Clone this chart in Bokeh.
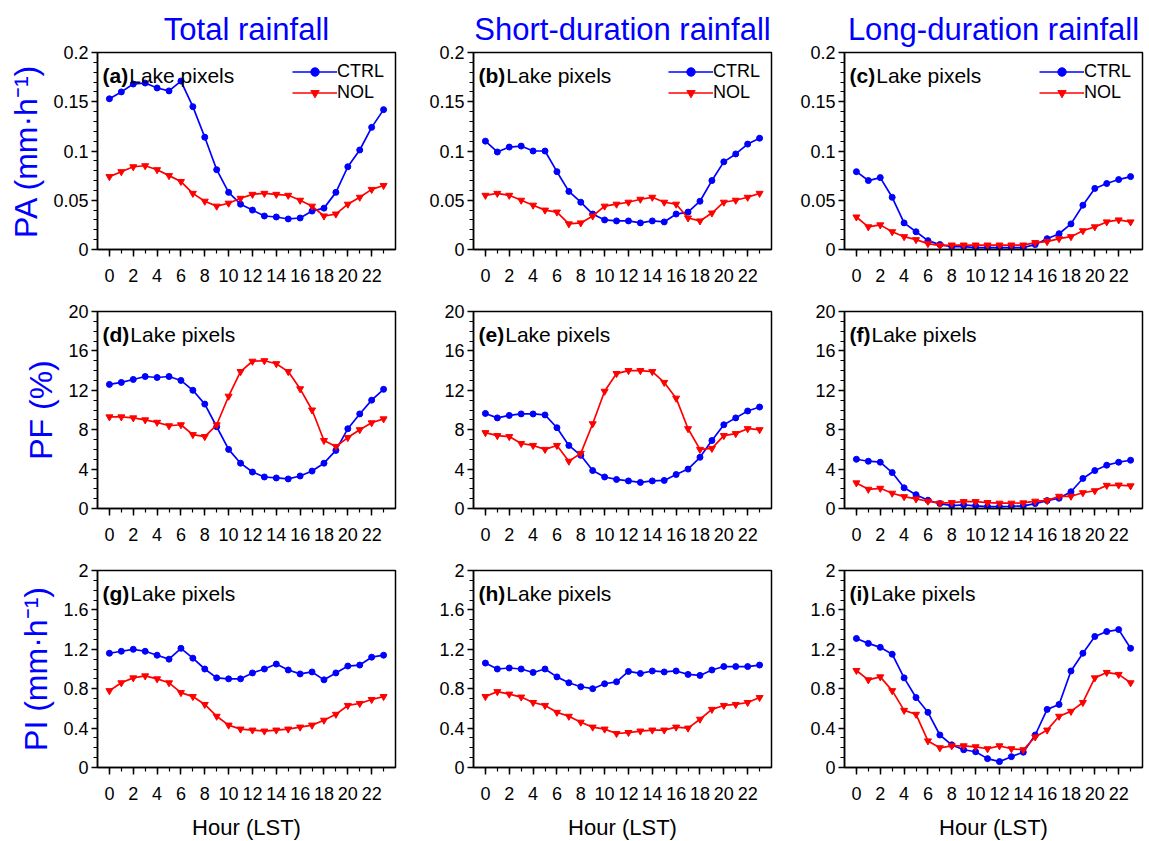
from bokeh.plotting import figure
from bokeh.layouts import gridplot
from bokeh.models import (FixedTicker, NumeralTickFormatter, Label, Legend,
                          LegendItem, Range1d)
from bokeh.embed import file_html
from bokeh.resources import INLINE

hours = list(range(24))
hour_ticks = [0, 2, 4, 6, 8, 10, 12, 14, 16, 18, 20, 22]

col_titles = ["Total rainfall", "Short-duration rainfall", "Long-duration rainfall"]
row_labels = ["PA (mm\u00b7h\u207b\u00b9)", "PF (%)", "PI (mm\u00b7h\u207b\u00b9)"]
panel_tags = [["(a)", "(b)", "(c)"], ["(d)", "(e)", "(f)"], ["(g)", "(h)", "(i)"]]
panel_text = "Lake pixels"
series_names = ["CTRL", "NOL"]

# PA (mm h-1)
pa_total_ctrl = [0.153, 0.160, 0.168, 0.169, 0.164, 0.161, 0.171, 0.145, 0.114, 0.081, 0.058, 0.046,
                 0.040, 0.034, 0.033, 0.031, 0.032, 0.039, 0.042, 0.058, 0.084, 0.101, 0.124, 0.142]
pa_total_nol = [0.074, 0.079, 0.084, 0.085, 0.081, 0.075, 0.069, 0.057, 0.049, 0.044, 0.047, 0.052,
                0.056, 0.057, 0.056, 0.055, 0.050, 0.044, 0.034, 0.036, 0.046, 0.053, 0.061, 0.065]
pa_short_ctrl = [0.110, 0.099, 0.104, 0.105, 0.100, 0.100, 0.079, 0.059, 0.048, 0.036, 0.030, 0.029,
                 0.029, 0.027, 0.029, 0.028, 0.036, 0.038, 0.049, 0.070, 0.089, 0.097, 0.107, 0.113]
pa_short_nol = [0.055, 0.057, 0.055, 0.050, 0.045, 0.040, 0.038, 0.026, 0.027, 0.034, 0.044, 0.046,
                0.048, 0.051, 0.053, 0.048, 0.046, 0.032, 0.029, 0.037, 0.048, 0.050, 0.053, 0.057]
pa_long_ctrl = [0.079, 0.070, 0.073, 0.053, 0.027, 0.018, 0.009, 0.005, 0.003, 0.003, 0.002, 0.002,
                0.002, 0.002, 0.002, 0.005, 0.011, 0.016, 0.026, 0.045, 0.062, 0.067, 0.071, 0.074]
pa_long_nol = [0.033, 0.023, 0.025, 0.018, 0.013, 0.010, 0.006, 0.004, 0.0045, 0.0045, 0.0045, 0.0045,
               0.0045, 0.0045, 0.0045, 0.007, 0.008, 0.011, 0.013, 0.019, 0.023, 0.028, 0.030, 0.028]

# PF (%)
pf_total_ctrl = [12.6, 12.8, 13.1, 13.4, 13.3, 13.4, 13.0, 12.0, 10.6, 8.3, 6.0, 4.6,
                 3.7, 3.2, 3.1, 3.0, 3.3, 3.8, 4.6, 5.9, 8.1, 9.6, 11.0, 12.1]
pf_total_nol = [9.3, 9.3, 9.2, 9.0, 8.75, 8.4, 8.5, 7.5, 7.3, 8.5, 11.4, 13.9,
                14.95, 15.0, 14.7, 13.9, 12.15, 10.0, 6.9, 6.3, 7.2, 8.0, 8.7, 9.1]
pf_short_ctrl = [9.65, 9.2, 9.45, 9.6, 9.6, 9.5, 8.2, 6.4, 5.4, 3.85, 3.2, 2.95,
                 2.8, 2.65, 2.8, 2.85, 3.45, 4.0, 5.2, 6.9, 8.5, 9.2, 9.9, 10.3]
pf_short_nol = [7.7, 7.4, 7.3, 6.6, 6.4, 6.0, 6.4, 4.8, 5.6, 8.6, 11.9, 13.7,
                14.0, 14.0, 13.9, 12.8, 11.2, 8.1, 6.0, 6.1, 7.4, 7.6, 8.1, 8.0]
pf_long_ctrl = [5.0, 4.8, 4.7, 3.65, 2.1, 1.4, 0.84, 0.5, 0.3, 0.37, 0.27, 0.2,
                0.2, 0.23, 0.27, 0.5, 0.8, 1.04, 1.7, 3.05, 3.85, 4.4, 4.7, 4.9]
pf_long_nol = [2.6, 1.95, 2.05, 1.55, 1.2, 0.97, 0.74, 0.54, 0.6, 0.7, 0.7, 0.6,
               0.54, 0.54, 0.57, 0.74, 0.8, 1.24, 1.24, 1.6, 1.8, 2.35, 2.38, 2.3]

# PI (mm h-1)
pi_total_ctrl = [1.16, 1.18, 1.20, 1.18, 1.14, 1.10, 1.21, 1.11, 1.00, 0.91, 0.90, 0.90,
                 0.96, 1.00, 1.05, 0.99, 0.95, 0.97, 0.89, 0.96, 1.03, 1.04, 1.12, 1.14]
pi_total_nol = [0.78, 0.86, 0.91, 0.93, 0.90, 0.86, 0.76, 0.72, 0.64, 0.52, 0.43, 0.39,
                0.38, 0.37, 0.38, 0.39, 0.41, 0.43, 0.48, 0.54, 0.63, 0.65, 0.69, 0.72]
pi_short_ctrl = [1.06, 1.00, 1.01, 1.00, 0.965, 1.00, 0.92, 0.86, 0.82, 0.80, 0.85, 0.87,
                 0.975, 0.955, 0.98, 0.97, 0.98, 0.945, 0.935, 0.99, 1.025, 1.025, 1.025, 1.04]
pi_short_nol = [0.72, 0.77, 0.745, 0.715, 0.66, 0.63, 0.56, 0.52, 0.46, 0.41, 0.39, 0.345,
                0.355, 0.37, 0.38, 0.38, 0.41, 0.40, 0.49, 0.59, 0.63, 0.64, 0.66, 0.71]
pi_long_ctrl = [1.31, 1.26, 1.22, 1.15, 0.91, 0.71, 0.56, 0.33, 0.23, 0.18, 0.16, 0.09,
                0.06, 0.11, 0.155, 0.33, 0.59, 0.64, 0.98, 1.16, 1.33, 1.38, 1.40, 1.21]
pi_long_nol = [0.985, 0.89, 0.92, 0.78, 0.58, 0.54, 0.27, 0.20, 0.22, 0.22, 0.21, 0.19,
               0.22, 0.19, 0.18, 0.31, 0.38, 0.52, 0.57, 0.66, 0.91, 0.965, 0.945, 0.86]

data = [
    [(pa_total_ctrl, pa_total_nol), (pa_short_ctrl, pa_short_nol), (pa_long_ctrl, pa_long_nol)],
    [(pf_total_ctrl, pf_total_nol), (pf_short_ctrl, pf_short_nol), (pf_long_ctrl, pf_long_nol)],
    [(pi_total_ctrl, pi_total_nol), (pi_short_ctrl, pi_short_nol), (pi_long_ctrl, pi_long_nol)],
]

y_major = [
    [0, 0.05, 0.1, 0.15, 0.2],
    [0, 4, 8, 12, 16, 20],
    [0, 0.4, 0.8, 1.2, 1.6, 2.0],
]
y_minor = [
    [round(i * 0.01, 2) for i in range(21)],
    list(range(21)),
    [round(i * 0.1, 1) for i in range(21)],
]
y_max = [0.2, 20, 2.0]
y_fmt = ["0.[00]", "0", "0.[0]"]

FONT = "Liberation Sans"
BLUE = "#0000ff"
RED = "#ff0000"
FW, FH = 298, 197
col_left = [97, 68, 67]
col_right = [10, 6, 5]
row_top = [52, 12, 12]
row_bottom = [50, 50, 73]
bold_w = {"(a)": 25.7, "(b)": 26.8, "(c)": 25.7, "(d)": 26.8, "(e)": 25.7, "(f)": 21,
          "(g)": 26.8, "(h)": 26.8, "(i)": 19.9}

figs = []
for r in range(3):
    row_figs = []
    for c in range(3):
        p = figure(frame_width=FW, frame_height=FH,
                   x_range=Range1d(-1, 24), y_range=Range1d(0, y_max[r]),
                   output_backend="svg", toolbar_location=None,
                   min_border_left=col_left[c], min_border_right=col_right[c],
                   min_border_top=row_top[r], min_border_bottom=row_bottom[r],
                   title=col_titles[c] if r == 0 else None)
        p.background_fill_color = "white"
        p.border_fill_color = "white"
        p.grid.visible = False
        p.outline_line_color = "black"
        p.outline_line_width = 1.5
        p.outline_line_alpha = 1.0
        if r == 0:
            p.title.text_font = FONT
            p.title.text_font_size = "31px"
            p.title.text_font_style = "normal"
            p.title.text_color = BLUE
            p.title.align = "center"
            p.title.standoff = 12

        xa = p.xaxis[0]
        xa.ticker = FixedTicker(ticks=hour_ticks, minor_ticks=hours)
        xa.major_label_text_font = FONT
        xa.major_label_text_font_size = "18px"
        xa.major_label_text_color = "black"
        xa.major_tick_out = 7
        xa.major_tick_in = 0
        xa.minor_tick_out = 4
        xa.minor_tick_in = 0
        xa.major_label_standoff = 12
        xa.axis_line_width = 1.5
        xa.major_tick_line_width = 1.5
        xa.minor_tick_line_width = 1.2
        if r == 2:
            xa.axis_label = "Hour (LST)"
            xa.axis_label_text_font = FONT
            xa.axis_label_text_font_size = "22px"
            xa.axis_label_text_font_style = "normal"
            xa.axis_label_text_color = "black"
            xa.axis_label_standoff = 12

        ya = p.yaxis[0]
        ya.ticker = FixedTicker(ticks=y_major[r], minor_ticks=y_minor[r])
        ya.formatter = NumeralTickFormatter(format=y_fmt[r])
        ya.major_label_text_font = FONT
        ya.major_label_text_font_size = "18px"
        ya.major_label_text_color = "black"
        ya.major_tick_out = 6
        ya.major_tick_in = 0
        ya.minor_tick_out = 4
        ya.minor_tick_in = 0
        ya.major_label_standoff = 3
        ya.axis_line_width = 1.5
        ya.major_tick_line_width = 1.5
        ya.minor_tick_line_width = 1.2
        if c == 0:
            ya.axis_label = row_labels[r]
            ya.axis_label_text_font = FONT
            ya.axis_label_text_font_size = "32px"
            ya.axis_label_text_font_style = "normal"
            ya.axis_label_text_color = BLUE
            ya.axis_label_standoff = 6

        ctrl, nol = data[r][c]
        lc = p.line(hours, ctrl, line_color=BLUE, line_width=1.7)
        sc = p.scatter(hours, ctrl, marker="circle", size=6, fill_color=BLUE, line_color=BLUE)
        ln = p.line(hours, nol, line_color=RED, line_width=1.7)
        sn = p.scatter(hours, nol, marker="inverted_triangle", size=7, fill_color=RED, line_color=RED)

        tag = panel_tags[r][c]
        p.add_layout(Label(x=5, y=FH - 23, x_units="screen", y_units="screen", text=tag,
                           text_font=FONT, text_font_size="21px", text_font_style="bold",
                           text_baseline="alphabetic", text_color="black"))
        p.add_layout(Label(x=5 + bold_w[tag] + 1, y=FH - 23, x_units="screen", y_units="screen",
                           text=panel_text, text_font=FONT, text_font_size="21px",
                           text_baseline="alphabetic", text_color="black"))

        if r == 0:
            leg = Legend(items=[LegendItem(label=series_names[0], renderers=[lc, sc]),
                                LegendItem(label=series_names[1], renderers=[ln, sn])],
                         location=(FW - 103, FH - 51), orientation="vertical",
                         glyph_width=45, glyph_height=21, label_height=21,
                         label_standoff=0, padding=0, margin=0, spacing=0,
                         background_fill_alpha=0, border_line_alpha=0,
                         label_text_font=FONT, label_text_font_size="18px",
                         label_text_color="black")
            p.add_layout(leg)
        row_figs.append(p)
    figs.append(row_figs)

grid = gridplot(figs, toolbar_location=None)
open("out.html", "w").write(file_html(grid, INLINE))
